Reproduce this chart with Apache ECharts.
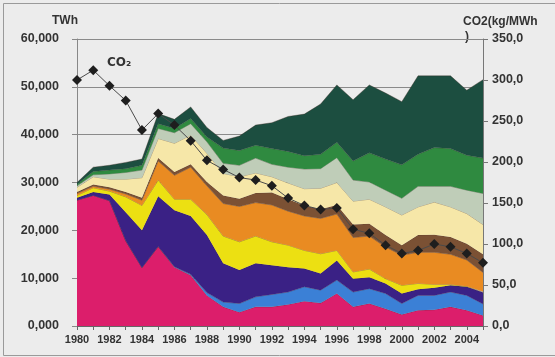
<!DOCTYPE html>
<html>
<head>
<meta charset="utf-8">
<script src="https://cdn.jsdelivr.net/npm/echarts@6/dist/echarts.min.js"></script>
<style>
html,body{margin:0;padding:0;background:#fff;}
#c{width:555px;height:357px;}
</style>
</head>
<body>
<div id="c"></div>
<script>
// Years (category axis)
var years = ['1980','1981','1982','1983','1984','1985','1986','1987','1988','1989','1990','1991','1992','1993','1994','1995','1996','1997','1998','1999','2000','2001','2002','2003','2004','2005'];

// Stacked layers (thousand TWh units as on the axis "10,000" = 10.000), bottom to top
var layerMagenta   = [26.3,27.3,26.2,17.8,12.2,16.6,12.3,10.6,6.4,4.0,2.9,4.0,4.0,4.5,5.2,4.8,6.8,4.0,4.7,3.6,2.4,3.3,3.4,4.0,3.3,2.2];
var layerBlue      = [0.0,0.0,0.0,0.0,0.0,0.0,0.1,0.2,0.6,1.0,1.8,2.1,2.6,2.6,3.0,2.7,2.8,3.1,3.1,3.2,2.3,3.1,3.0,3.1,3.1,2.4];
var layerPurple    = [0.5,0.7,1.3,6.0,7.8,10.5,11.8,12.2,12.0,8.1,7.0,7.0,6.1,5.2,3.8,3.5,4.1,2.8,2.4,2.1,2.1,1.3,1.6,1.4,1.8,2.4];
var layerYellow    = [0.5,0.9,0.7,3.2,5.2,3.4,2.3,3.5,4.3,5.7,5.9,5.7,4.9,4.6,3.8,4.1,2.1,1.4,1.7,1.0,1.7,1.2,0.7,0.2,0.1,0.2];
var layerOrange    = [0.4,0.3,0.4,0.6,1.1,4.0,5.0,6.7,6.0,6.8,7.4,7.0,7.7,7.1,7.2,7.4,7.6,7.2,6.9,6.6,6.3,6.5,6.7,6.3,5.5,4.0];
var layerBrown     = [0.3,0.4,0.4,0.4,0.5,0.6,0.7,0.6,0.8,1.7,1.6,2.0,2.6,2.5,2.2,1.9,1.9,2.7,2.6,2.5,2.1,3.6,3.7,3.6,3.4,3.8];
var layerCream     = [1.0,1.6,1.7,2.7,4.2,4.1,6.0,6.1,6.0,4.6,4.6,4.2,3.3,3.4,3.5,4.4,4.7,4.9,5.1,5.9,6.3,5.9,6.8,6.3,6.3,6.2];
var layerGreyGreen = [0.3,0.4,1.1,1.4,1.6,2.1,2.2,2.4,2.4,2.1,2.4,3.1,2.6,3.3,4.1,4.1,5.2,4.4,3.6,3.5,3.5,4.3,3.3,4.3,4.9,6.5];
var layerGreen     = [0.3,0.7,0.8,0.8,1.0,1.0,0.9,1.1,1.0,3.2,3.1,2.7,3.3,3.3,2.8,3.0,3.2,4.0,6.1,6.5,7.0,6.7,8.1,7.9,7.3,7.4];
var layerDarkGreen = [0.4,0.9,1.0,1.3,1.3,2.1,1.9,2.4,2.0,1.6,3.0,4.2,5.4,7.3,8.7,10.5,12.0,12.8,14.2,13.8,13.2,16.4,15.0,15.2,13.6,16.4];

// CO2 intensity (kg/MWh), right axis
var co2 = [300,312,293,275,239,259,245,226,202,191,181,178,171,156,147,142,144,118,113,98.5,88.5,92,100,96.5,88.5,77];

// Axis tick settings
var leftMax = 60, leftStep = 10;
var rightMax = 350, rightStep = 50;

var layers = [
  {d: layerMagenta,   c: '#dc1e6b'},
  {d: layerBlue,      c: '#3b80d6'},
  {d: layerPurple,    c: '#3a2185'},
  {d: layerYellow,    c: '#ece012'},
  {d: layerOrange,    c: '#e98b22'},
  {d: layerBrown,     c: '#7b5134'},
  {d: layerCream,     c: '#f6e7a8'},
  {d: layerGreyGreen, c: '#bfcdb8'},
  {d: layerGreen,     c: '#2f8a40'},
  {d: layerDarkGreen, c: '#1c4e40'}
];

var series = layers.map(function(l, i){
  return {
    type: 'line', stack: 'total', data: l.d, showSymbol: false, symbol: 'none',
    lineStyle: {width: 0.8, color: 'rgba(60,40,30,0.45)'},
    areaStyle: {color: l.c, opacity: 1},
    emphasis: {disabled: true}, z: 2 + i * 0.01, animation: false
  };
});
series.push({
  type: 'line', yAxisIndex: 1, data: co2, symbol: 'diamond', symbolSize: 10,
  itemStyle: {color: '#1e1e1e'},
  lineStyle: {width: 1, color: '#4a4a4a'},
  z: 10, animation: false
});

var chart = echarts.init(document.getElementById('c'), null, {renderer: 'canvas'});
chart.setOption({
  backgroundColor: '#ececec',
  animation: false,
  grid: {left: 77, right: 72, top: 39, bottom: 31, containLabel: false},
  xAxis: {
    type: 'category', data: years, boundaryGap: false,
    axisLine: {lineStyle: {color: '#666', width: 1}},
    axisTick: {show: true, interval: 0, length: 4, lineStyle: {color: '#666'}},
    axisLabel: {interval: 1, color: '#333', fontWeight: 'bold', fontSize: 11, fontFamily: 'Liberation Sans, Arial, sans-serif', margin: 8},
    splitLine: {show: false}
  },
  yAxis: [{
    type: 'value', min: 0, max: leftMax, interval: leftStep,
    axisLine: {show: true, lineStyle: {color: '#888'}},
    axisTick: {show: true, length: 5, lineStyle: {color: '#888'}},
    axisLabel: {margin: 18, color: '#333', fontWeight: 'bold', fontSize: 12.5, fontFamily: 'Liberation Sans, Arial, sans-serif',
      formatter: function(v){ return v.toFixed(3).replace('.', ','); }},
    splitLine: {show: true, lineStyle: {color: '#8a8a8a', width: 1}}
  }, {
    type: 'value', min: 0, max: rightMax, interval: rightStep, position: 'right',
    axisLine: {show: true, lineStyle: {color: '#777'}},
    axisTick: {show: true, length: 5, lineStyle: {color: '#777'}},
    axisLabel: {margin: 9, color: '#333', fontWeight: 'bold', fontSize: 12.5, fontFamily: 'Liberation Sans, Arial, sans-serif',
      formatter: function(v){ return v.toFixed(1).replace('.', ','); }},
    splitLine: {show: false}
  }],
  graphic: [
    {type: 'rect', left: 1, top: 1, shape: {width: 552, height: 352}, style: {fill: 'none', stroke: '#9a9a9a', lineWidth: 1}, silent: true, z: 0},
    {type: 'text', left: 52, top: 15, style: {text: 'TWh', fontWeight: 'bold', fontSize: 12, fill: '#333', fontFamily: 'Liberation Sans, Arial, sans-serif'}},
    {type: 'text', left: 463, top: 16, style: {text: 'CO2(kg/MWh', fontWeight: 'bold', fontSize: 12, fill: '#333', fontFamily: 'Liberation Sans, Arial, sans-serif'}},
    {type: 'text', left: 465, top: 31, style: {text: ')', fontWeight: 'bold', fontSize: 12, fill: '#333', fontFamily: 'Liberation Sans, Arial, sans-serif'}},
    {type: 'text', left: 107, top: 57, style: {text: 'CO₂', fontWeight: 'bold', fontSize: 12, fill: '#333', fontFamily: 'DejaVu Sans, sans-serif'}}
  ],
  series: series
});
</script>
</body>
</html>
